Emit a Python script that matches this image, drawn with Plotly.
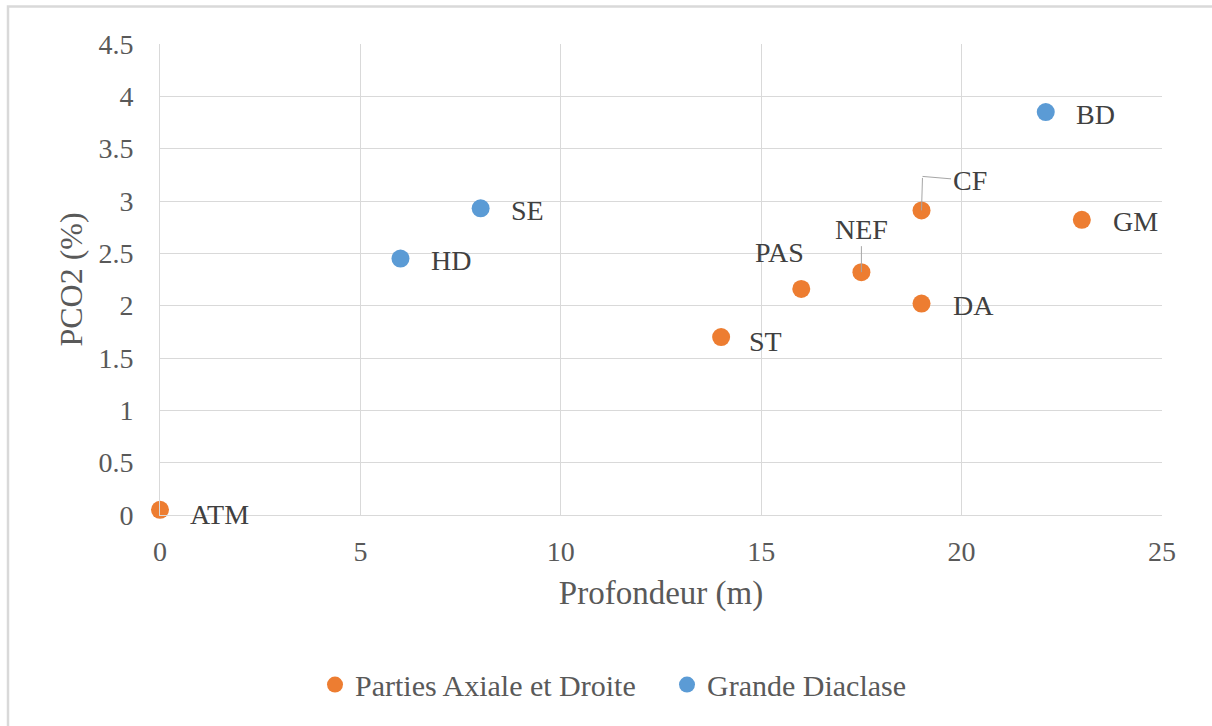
import plotly.graph_objects as go

# Sites of the axial/right parts of the cave
axial_names = ["ATM", "ST", "PAS", "NEF", "DA", "CF", "GM"]
axial_depth = [0, 14, 16, 17.5, 19, 19, 23]
axial_pco2 = [0.05, 1.70, 2.16, 2.32, 2.02, 2.91, 2.82]

# Sites along the large joint
diaclase_names = ["HD", "SE", "BD"]
diaclase_depth = [6, 8, 22.1]
diaclase_pco2 = [2.45, 2.93, 3.85]

x_ticks = [0, 5, 10, 15, 20, 25]
y_ticks = [0, 0.5, 1, 1.5, 2, 2.5, 3, 3.5, 4, 4.5]

ORANGE = "#ED7D31"
BLUE = "#5B9BD5"
FONT = "Liberation Serif"
GRID = "#d9d9d9"
LEADER = "#a6a6a6"

fig = go.Figure()
fig.add_trace(go.Scatter(
    x=axial_depth, y=axial_pco2, mode="markers", name="Parties Axiale et Droite",
    marker=dict(color=ORANGE, size=18, line=dict(width=0)), cliponaxis=False,
))
fig.add_trace(go.Scatter(
    x=diaclase_depth, y=diaclase_pco2, mode="markers", name="Grande Diaclase",
    marker=dict(color=BLUE, size=18, line=dict(width=0)), cliponaxis=False,
))

# Label placement in pixels relative to each point
label_style = {
    "ATM": dict(dx=28, dy=-5),
    "ST": dict(dx=26, dy=-4),
    "PAS": dict(dx=-22, dy=36, anchor="center"),
    "NEF": dict(leader=(0, -43)),
    "DA": dict(dx=29, dy=-2),
    "CF": dict(elbow=(1, 34, 47, 4)),
    "GM": dict(dx=29, dy=-2),
    "HD": dict(dx=29, dy=-2),
    "SE": dict(dx=28, dy=-2),
    "BD": dict(dx=28, dy=-2),
}

label_font = dict(family=FONT, size=28, color="#404040")
annotations = []
for names, xs, ys in [(axial_names, axial_depth, axial_pco2),
                      (diaclase_names, diaclase_depth, diaclase_pco2)]:
    for n, xv, yv in zip(names, xs, ys):
        st = label_style[n]
        if "leader" in st:
            ax, ay = st["leader"]
            annotations.append(dict(
                x=xv, y=yv, text=n, showarrow=True, arrowhead=0, arrowwidth=1,
                arrowcolor=LEADER, ax=ax, ay=ay, font=label_font,
            ))
        elif "elbow" in st:
            cx, cy, ax, ay = st["elbow"]
            # vertical segment from the point up to the corner
            annotations.append(dict(
                x=xv, y=yv, text="", showarrow=True, arrowhead=0, arrowwidth=1,
                arrowcolor=LEADER, ax=cx, ay=-cy, standoff=0,
            ))
            # horizontal segment from the corner to the label
            annotations.append(dict(
                x=xv, y=yv, xshift=cx, yshift=cy, text=n, showarrow=True,
                arrowhead=0, arrowwidth=1, arrowcolor=LEADER, ax=ax, ay=ay,
                font=label_font,
            ))
        else:
            annotations.append(dict(
                x=xv, y=yv, text=n, showarrow=False,
                xanchor=st.get("anchor", "left"),
                xshift=st["dx"], yshift=st["dy"], font=label_font,
            ))

fig.update_layout(
    width=1212, height=726,
    margin=dict(l=160, r=50, t=44, b=211),
    paper_bgcolor="white", plot_bgcolor="white",
    font=dict(family=FONT, color="#595959"),
    showlegend=True,
    legend=dict(
        orientation="h", x=(315 - 160) / 1002, xanchor="left", y=-0.36, yanchor="middle",
        font=dict(family=FONT, size=30, color="#595959"),
        itemsizing="trace", itemwidth=30, traceorder="normal",
        entrywidth=307, entrywidthmode="pixels",
    ),
    annotations=annotations,
    shapes=[dict(
        type="rect", xref="paper", yref="paper",
        x0=(8 - 160) / 1002, x1=(1216 - 160) / 1002,
        y0=(515 - 730) / 471, y1=(515 - 6.5) / 471,
        line=dict(color=GRID, width=2.5), fillcolor="rgba(0,0,0,0)", layer="below",
    )],
)

fig.update_xaxes(
    range=[0, 25], tickvals=x_ticks, showgrid=True, gridcolor=GRID, gridwidth=1,
    zeroline=False, showline=True, linecolor=GRID, linewidth=1, mirror=False,
    ticks="", ticklabelstandoff=11,
    tickfont=dict(family=FONT, size=28, color="#595959"),
    title=dict(text="Profondeur (m)", font=dict(family=FONT, size=33, color="#595959"),
               standoff=15),
)
fig.update_yaxes(
    range=[0, 4.5], tickvals=y_ticks, showgrid=True, gridcolor=GRID, gridwidth=1,
    zeroline=False, showline=True, linecolor=GRID, linewidth=1,
    ticks="", ticklabelstandoff=20,
    tickfont=dict(family=FONT, size=28, color="#595959"),
    title=dict(text="PCO2 (%)", font=dict(family=FONT, size=32, color="#595959"),
               standoff=6),
)

fig.write_html("out.html")
